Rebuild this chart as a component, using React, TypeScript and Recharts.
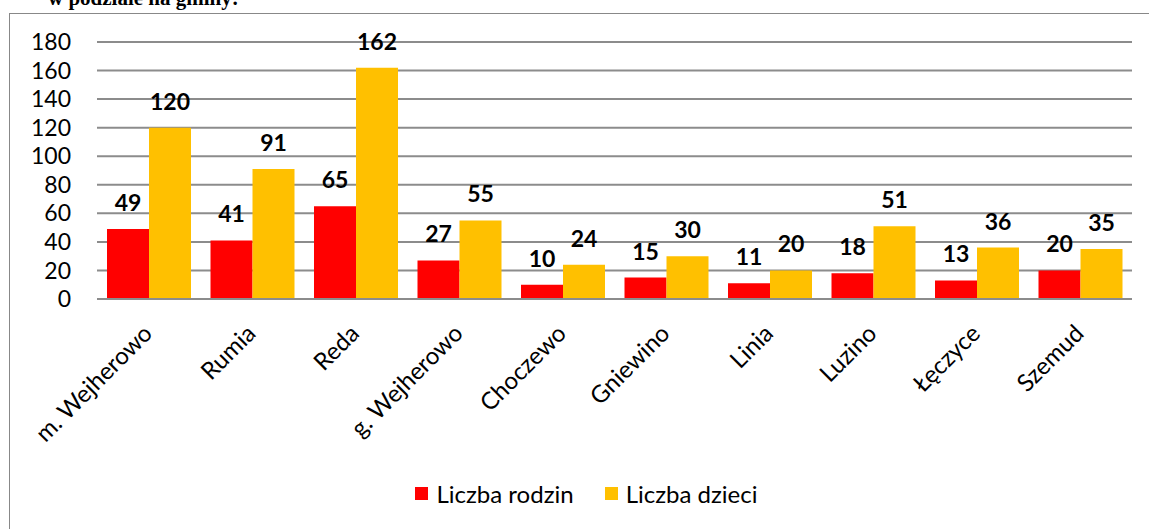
import { BarChart, Bar, XAxis, YAxis, CartesianGrid, Legend, LabelList } from 'recharts'

const gminy = ['m. Wejherowo', 'Rumia', 'Reda', 'g. Wejherowo', 'Choczewo', 'Gniewino', 'Linia', 'Luzino', 'Łęczyce', 'Szemud']
const rodziny = [49, 41, 65, 27, 10, 15, 11, 18, 13, 20]
const dzieci = [120, 91, 162, 55, 24, 30, 20, 51, 36, 35]
const yTicks = [0, 20, 40, 60, 80, 100, 120, 140, 160, 180]
const seriesOrder = ['Liczba rodzin', 'Liczba dzieci']

const data = gminy.map((name, i) => ({ name, rodziny: rodziny[i], dzieci: dzieci[i] }))

const FONT = 'Lato, "Open Sans", sans-serif'

function XTick({ x, y, payload }: any) {
  const tx = x + 5
  const ty = y + 28
  return (
    <text x={tx} y={ty} transform={`rotate(-45 ${tx} ${ty})`} textAnchor="end" fontSize={24} fill="#000" fontFamily={FONT}>
      {payload.value}
    </text>
  )
}

function LegendBox({ payload }: any) {
  const items = [...(payload || [])].sort((a: any, b: any) => seriesOrder.indexOf(a.value) - seriesOrder.indexOf(b.value))
  return (
    <div style={{ display: 'flex', justifyContent: 'center', fontFamily: FONT, fontSize: 24, color: '#000', height: 28 }}>
      {items.map((p: any) => (
        <div key={p.value} style={{ display: 'flex', alignItems: 'center', marginRight: 31 }}>
          <span style={{ width: 13, height: 13, background: p.color, display: 'inline-block', marginRight: 8 }} />
          <span>{p.value}</span>
        </div>
      ))}
    </div>
  )
}

export default function App() {
  return (
    <div style={{ position: 'absolute', left: 0, top: 0, width: 1149, height: 529, overflow: 'hidden', background: '#fff' }}>
      <div style={{ position: 'absolute', left: 48, top: -12, fontFamily: '"Liberation Serif", serif', fontWeight: 'bold', fontSize: 21, lineHeight: '21px', whiteSpace: 'nowrap' }}>
        w podziale na gminy:
      </div>
      <div style={{ position: 'absolute', left: 9, top: 13, width: 1200, height: 600, border: '1px solid #888' }} />
      <div style={{ position: 'absolute', left: 0, top: 0 }}>
        <BarChart width={1149} height={529} data={data} margin={{ top: 42, right: 17, left: 0, bottom: 0 }} barCategoryGap={10} barGap={0}>
          <CartesianGrid vertical={false} stroke="#8c8c8c" strokeWidth={2} />
          <XAxis dataKey="name" interval={0} tick={<XTick />} tickLine={false} axisLine={{ stroke: '#8c8c8c', strokeWidth: 2 }} height={202} />
          <YAxis domain={[0, 180]} ticks={yTicks} interval={0} width={97} tickLine={false} axisLine={false} tickSize={0} tickMargin={26} tick={{ fontSize: 23, fill: '#000', fontFamily: FONT }} />
          <Legend content={<LegendBox />} verticalAlign="bottom" wrapperStyle={{ top: 479, left: 36, height: 28 }} />
          <Bar dataKey="rodziny" name="Liczba rodzin" fill="#FF0000" isAnimationActive={false}>
            <LabelList dataKey="rodziny" position="top" offset={18} fontSize={23} fontWeight="bold" fill="#000" fontFamily={FONT} />
          </Bar>
          <Bar dataKey="dzieci" name="Liczba dzieci" fill="#FFC000" isAnimationActive={false}>
            <LabelList dataKey="dzieci" position="top" offset={18} fontSize={23} fontWeight="bold" fill="#000" fontFamily={FONT} />
          </Bar>
        </BarChart>
      </div>
    </div>
  )
}
